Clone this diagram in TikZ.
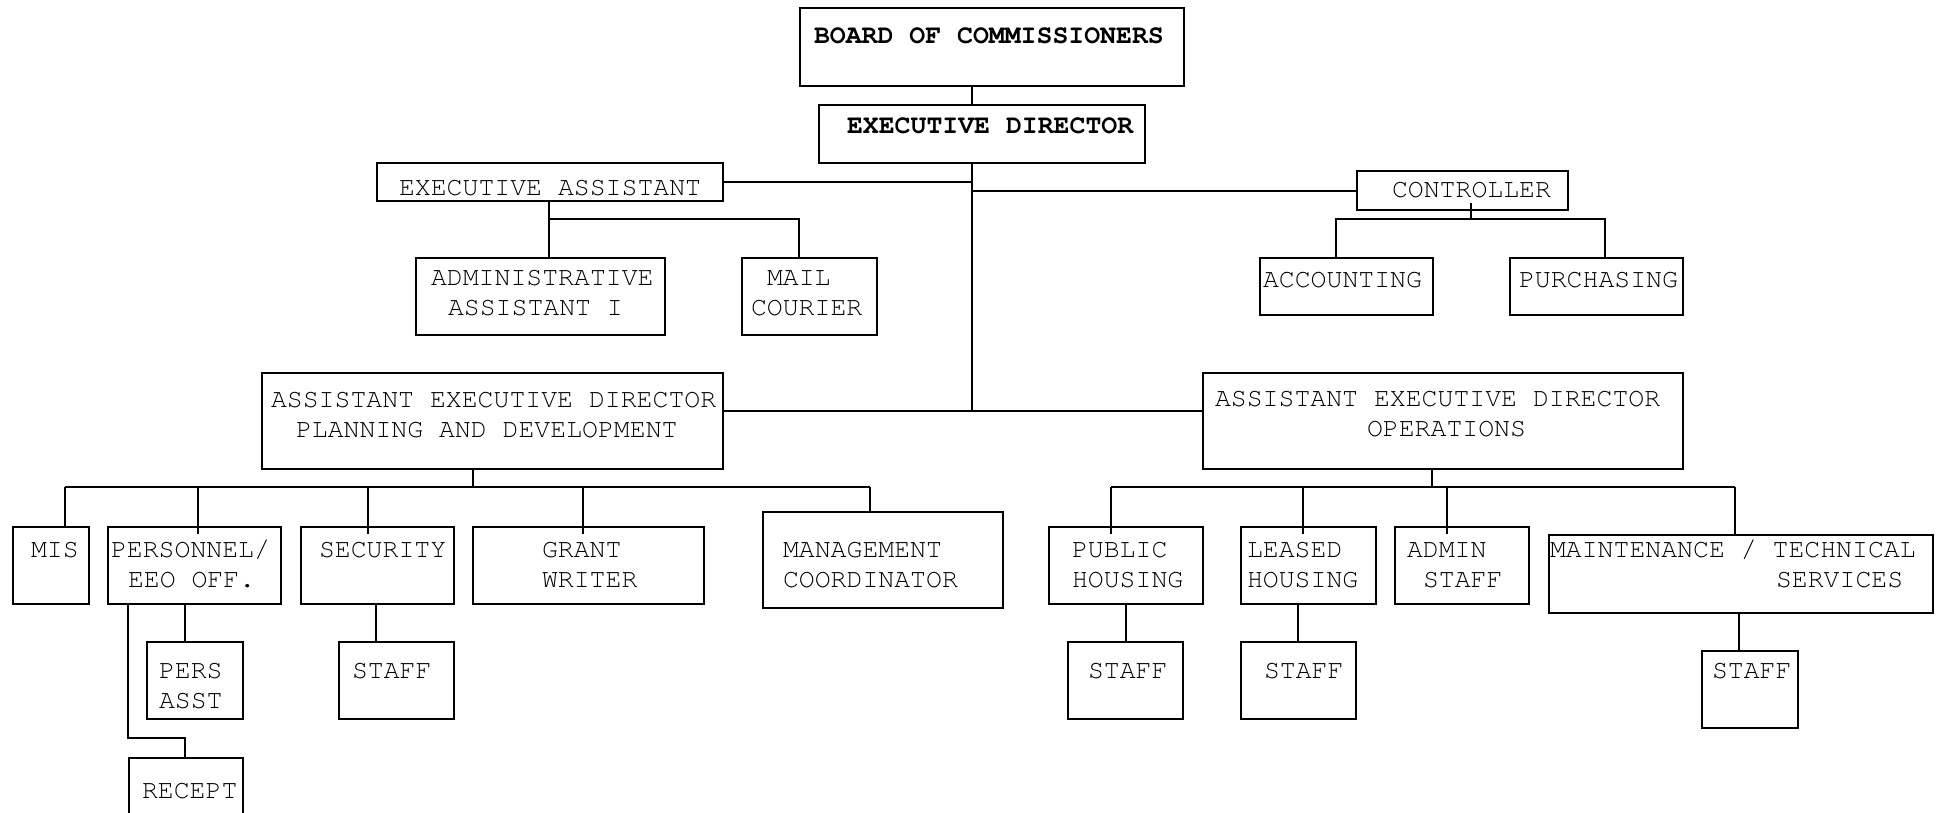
\documentclass[tikz,border=0pt]{standalone}
\usepackage{fontspec}
\setmainfont{texgyrecursor}[Extension=.otf,UprightFont=*-regular,BoldFont=*-bold]
\usepackage{tikz}

\begin{document}
\begin{tikzpicture}[x=1pt,y=-1pt,line width=2pt,
  font=\fontsize{26.5}{30.5}\selectfont,
  box/.style={draw,inner sep=0pt,anchor=north west},
  lbl/.style={inner sep=0pt,anchor=base west}]
  \useasboundingbox (0,0) rectangle (1939,812);

  \node[box,minimum width=384pt,minimum height=78pt] (board) at (799,7) {};
  \node[box,minimum width=326pt,minimum height=58pt] (ed) at (818,104) {};
  \node[box,minimum width=346pt,minimum height=38pt] (ea) at (376,162) {};
  \node[box,minimum width=211pt,minimum height=39pt] (ctrl) at (1356,170) {};
  \node[box,minimum width=249pt,minimum height=77pt] (aa1) at (415,257) {};
  \node[box,minimum width=135pt,minimum height=77pt] (mail) at (741,257) {};
  \node[box,minimum width=173pt,minimum height=57pt] (acct) at (1259,257) {};
  \node[box,minimum width=173pt,minimum height=57pt] (purch) at (1509,257) {};
  \node[box,minimum width=461pt,minimum height=96pt] (aedpd) at (261,372) {};
  \node[box,minimum width=480pt,minimum height=96pt] (aedops) at (1202,372) {};

  \node[box,minimum width=76pt,minimum height=77pt] (mis) at (12,526) {};
  \node[box,minimum width=173pt,minimum height=77pt] (pers) at (107,526) {};
  \node[box,minimum width=153pt,minimum height=77pt] (sec) at (300,526) {};
  \node[box,minimum width=231pt,minimum height=77pt] (grant) at (472,526) {};
  \node[box,minimum width=240pt,minimum height=96pt] (mgmt) at (762,511) {};
  \node[box,minimum width=96pt,minimum height=77pt] (persasst) at (146,641) {};
  \node[box,minimum width=115pt,minimum height=77pt] (secstaff) at (338,641) {};
  \node[box,minimum width=114pt,minimum height=90pt] (recept) at (128,757) {};

  \node[box,minimum width=154pt,minimum height=77pt] (pubh) at (1048,526) {};
  \node[box,minimum width=135pt,minimum height=77pt] (leash) at (1240,526) {};
  \node[box,minimum width=134pt,minimum height=77pt] (adminst) at (1394,526) {};
  \node[box,minimum width=384pt,minimum height=78pt] (maint) at (1548,534) {};
  \node[box,minimum width=115pt,minimum height=77pt] (phstaff) at (1067,641) {};
  \node[box,minimum width=115pt,minimum height=77pt] (lhstaff) at (1240,641) {};
  \node[box,minimum width=96pt,minimum height=77pt] (mtstaff) at (1701,650) {};

  \node[lbl] (board-t) at (813,43) {\bfseries BOARD OF COMMISSIONERS};
  \node[lbl] (ed-t) at (846,133) {\bfseries EXECUTIVE DIRECTOR};
  \node[lbl] (ea-t) at (398,195) {EXECUTIVE ASSISTANT};
  \node[lbl] (ctrl-t) at (1391,197) {CONTROLLER};
  \node[lbl] (aa1-t) at (430,285)
    {\begin{tabular}[t]{@{}l@{}}ADMINISTRATIVE\\\hspace*{17pt}ASSISTANT I\end{tabular}};
  \node[lbl] (mail-t) at (750,285)
    {\begin{tabular}[t]{@{}l@{}}\hspace*{16pt}MAIL\\COURIER\end{tabular}};
  \node[lbl] (acct-t) at (1262,287) {ACCOUNTING};
  \node[lbl] (purch-t) at (1518,287) {PURCHASING};
  \node[lbl] (aedpd-t) at (270,407)
    {\begin{tabular}[t]{@{}l@{}}ASSISTANT EXECUTIVE DIRECTOR\\\hspace*{25pt}PLANNING AND DEVELOPMENT\end{tabular}};
  \node[lbl] (aedops-t) at (1214,406)
    {\begin{tabular}[t]{@{}l@{}}ASSISTANT EXECUTIVE DIRECTOR\\\hspace*{152pt}OPERATIONS\end{tabular}};

  \node[lbl] (mis-t) at (30,557) {MIS};
  \node[lbl] (pers-t) at (110,557)
    {\begin{tabular}[t]{@{}l@{}}PERSONNEL/\\\hspace*{17pt}EEO OFF.\end{tabular}};
  \node[lbl] (sec-t) at (318,557) {SECURITY};
  \node[lbl] (grant-t) at (541,557)
    {\begin{tabular}[t]{@{}l@{}}GRANT\\WRITER\end{tabular}};
  \node[lbl] (mgmt-t) at (782,557)
    {\begin{tabular}[t]{@{}l@{}}MANAGEMENT\\COORDINATOR\end{tabular}};
  \node[lbl] (persasst-t) at (158,678)
    {\begin{tabular}[t]{@{}l@{}}PERS\\ASST\end{tabular}};
  \node[lbl] (secstaff-t) at (351,678) {STAFF};
  \node[lbl] (recept-t) at (141,798) {RECEPT};

  \node[lbl] (pubh-t) at (1071,557)
    {\begin{tabular}[t]{@{}l@{}}PUBLIC\\HOUSING\end{tabular}};
  \node[lbl] (leash-t) at (1246,557)
    {\begin{tabular}[t]{@{}l@{}}LEASED\\HOUSING\end{tabular}};
  \node[lbl] (adminst-t) at (1406,557)
    {\begin{tabular}[t]{@{}l@{}}ADMIN\\\hspace*{16pt}STAFF\end{tabular}};
  \node[lbl] (maint-t) at (1549,557)
    {\begin{tabular}[t]{@{}l@{}}MAINTENANCE / TECHNICAL\\\hspace*{226pt}SERVICES\end{tabular}};
  \node[lbl] (phstaff-t) at (1087,678) {STAFF};
  \node[lbl] (lhstaff-t) at (1263,678) {STAFF};
  \node[lbl] (mtstaff-t) at (1711,678) {STAFF};

  \coordinate (trunk) at (972,411);
  \draw (board.south -| trunk) -- (ed.north -| trunk);
  \draw (ed.south -| trunk) -- (trunk);
  \draw (aedpd.east |- trunk) -- (aedops.west |- trunk);
  \draw (ea.east) -- (ea.east -| trunk);
  \draw (ctrl.west) -- (ctrl.west -| trunk);

  \coordinate (ea-bus) at (549,219);
  \draw (ea.south -| ea-bus) -- (ea-bus);
  \draw (aa1.north -| ea-bus) -- (ea-bus) -| (mail.north -| 799,0);

  \coordinate (ctrl-bus) at (1471,219);
  \draw (ctrl-bus) -- (ctrl.south -| ctrl-bus) -- ++(0,-8);
  \draw (acct.north -| 1336,0) |- (ctrl-bus) -| (purch.north -| 1605,0);

  \coordinate (pd-bus) at (473,487);
  \draw (aedpd.south -| pd-bus) -- (pd-bus);
  \draw (65,0 |- pd-bus) -- (870,0 |- pd-bus);
  \foreach \nm/\dx/\dy in {mis/65/0,pers/198/8,sec/368/8,grant/583/8,mgmt/870/0}
    \draw (\dx,0 |- pd-bus) -- (\dx,0 |- \nm.north) -- ++(0,\dy);

  \coordinate (op-bus) at (1432,487);
  \draw (aedops.south -| op-bus) -- (op-bus);
  \draw (1111,0 |- op-bus) -- (1735,0 |- op-bus);
  \foreach \nm/\dx/\dy in {pubh/1111/8,leash/1303/8,adminst/1447/8,maint/1735/0}
    \draw (\dx,0 |- op-bus) -- (\dx,0 |- \nm.north) -- ++(0,\dy);

  \foreach \up/\dn/\dx in {pers/persasst/185,sec/secstaff/376,pubh/phstaff/1126,leash/lhstaff/1298,maint/mtstaff/1739}
    \draw (\up.south -| \dx,0) -- (\dn.north -| \dx,0);
  \coordinate (rc-bend) at (128,738);
  \draw (pers.south -| rc-bend) -- (rc-bend) -| (recept.north -| 185,0);
\end{tikzpicture}
\end{document}
